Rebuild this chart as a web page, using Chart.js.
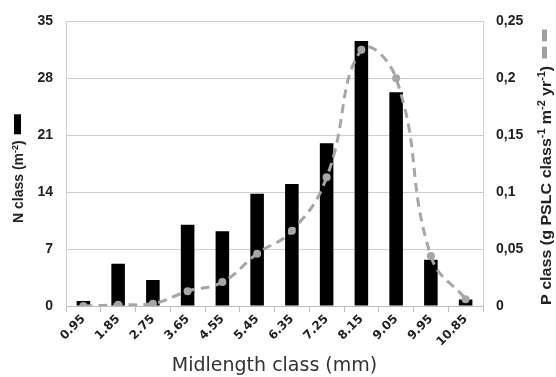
<!DOCTYPE html>
<html>
<head>
<meta charset="utf-8">
<script src="https://cdn.jsdelivr.net/npm/chart.js@4/dist/chart.umd.min.js"></script>
<style>
html,body{margin:0;padding:0;background:#fff;}
#wrap{width:556px;height:377px;position:relative;}
</style>
</head>
<body>
<div id="wrap"><canvas id="c" width="556" height="377"></canvas></div>
<script>
const categories = ["0.95","1.85","2.75","3.65","4.55","5.45","6.35","7.25","8.15","9.05","9.95","10.85"];
const nClass = [0.6, 5.2, 3.2, 10.0, 9.2, 13.8, 15.0, 20.0, 32.6, 26.3, 5.7, 0.8];
const pClass = [0.0, 0.001, 0.002, 0.013, 0.021, 0.046, 0.066, 0.113, 0.225, 0.200, 0.044, 0.006];
const leftTicks = [0, 7, 14, 21, 28, 35];
const rightTicks = [0, 0.05, 0.1, 0.15, 0.2, 0.25];
const rightTickLabels = ["0", "0,05", "0,1", "0,15", "0,2", "0,25"];
const xTitle = "Midlength class (mm)";
const leftTitle = [["N class (m", false], ["-2", true], [")", false]];
const rightTitle = [["P class (g PSLC class", false], ["-1", true], [" m", false], ["-2", true], [" yr", false], ["-1", true], [")", false]];

function drawRich(ctx, parts, size) {
  let x = 0;
  for (const [t, sup] of parts) {
    ctx.font = "bold " + (sup ? Math.round(size * 0.65) : size) + "px 'Liberation Sans', Arial, sans-serif";
    ctx.fillText(t, x, sup ? -size * 0.38 : 0);
    x += ctx.measureText(t).width;
  }
  return x;
}

const titlesPlugin = {
  id: 'titles',
  afterDraw(chart) {
    const ctx = chart.ctx;
    // left title
    ctx.save();
    ctx.translate(23, 223);
    ctx.rotate(-Math.PI / 2);
    ctx.fillStyle = '#222';
    ctx.textBaseline = 'alphabetic';
    ctx.textAlign = 'left';
    const wl = drawRich(ctx, leftTitle, 14);
    ctx.fillStyle = '#000';
    ctx.fillRect(wl + 6, -9, 20, 7);
    ctx.restore();
    // right title
    ctx.save();
    ctx.translate(551, 305);
    ctx.rotate(-Math.PI / 2);
    ctx.scale(1.07, 1);
    ctx.fillStyle = '#222';
    ctx.textBaseline = 'alphabetic';
    ctx.textAlign = 'left';
    const wr = drawRich(ctx, rightTitle, 15);
    ctx.fillStyle = '#a0a0a0';
    ctx.fillRect(wr + 7, -9, 11, 5);
    ctx.fillRect(wr + 23, -9, 11, 5);
    ctx.restore();
  }
};

new Chart(document.getElementById('c'), {
  type: 'bar',
  data: {
    labels: categories,
    datasets: [
      {
        type: 'line',
        label: 'P class',
        data: pClass,
        yAxisID: 'y1',
        borderColor: '#a6a6a6',
        backgroundColor: '#a6a6a6',
        borderWidth: 3,
        borderDash: [9, 6],
        pointRadius: 4,
        pointBackgroundColor: '#a6a6a6',
        pointBorderWidth: 0,
        tension: 0.45,
        order: 0
      },
      {
        type: 'bar',
        label: 'N class',
        data: nClass,
        yAxisID: 'y',
        backgroundColor: '#000',
        borderColor: '#000',
        categoryPercentage: 1,
        barPercentage: 0.39,
        order: 1
      }
    ]
  },
  options: {
    responsive: false,
    animation: false,
    layout: { padding: { top: 19, left: 0, right: 0, bottom: 0 } },
    plugins: { legend: { display: false }, tooltip: { enabled: false } },
    scales: {
      x: {
        offset: true,
        grid: { display: true, drawOnChartArea: false, drawTicks: true, tickLength: 6, color: '#bdbdbd', offset: true },
        border: { display: true, color: '#bdbdbd' },
        ticks: {
          maxRotation: 45, minRotation: 45, padding: 0, color: '#222',
          font: { family: "'DejaVu Sans', Verdana, sans-serif", size: 12, weight: 'bold' }
        },
        title: {
          display: true, text: xTitle, color: '#333',
          font: { family: "'DejaVu Sans', Verdana, sans-serif", size: 19 },
          padding: { top: 0, bottom: 0 }
        },
        afterFit(s) { s.height = 71; }
      },
      y: {
        position: 'left',
        min: 0, max: 35,
        afterBuildTicks(s) { s.ticks = leftTicks.map(v => ({ value: v })); },
        grid: { color: '#cfcfcf', drawTicks: false },
        border: { display: true, color: '#cfcfcf' },
        ticks: {
          padding: 13, color: '#222',
          font: { family: "'Liberation Sans', Arial, sans-serif", size: 14, weight: 'bold' }
        },
        afterFit(s) { s.width = 66; }
      },
      y1: {
        position: 'right',
        min: 0, max: 0.25,
        afterBuildTicks(s) { s.ticks = rightTicks.map(v => ({ value: v })); },
        grid: { drawOnChartArea: false, drawTicks: false },
        border: { display: true, color: '#cfcfcf' },
        ticks: {
          padding: 13, color: '#222',
          font: { family: "'Liberation Sans', Arial, sans-serif", size: 14, weight: 'bold' },
          callback(v) {
            const i = rightTicks.findIndex(t => Math.abs(t - v) < 1e-9);
            return i >= 0 ? rightTickLabels[i] : '';
          }
        },
        afterFit(s) { s.width = 73; }
      }
    }
  },
  plugins: [titlesPlugin]
});
</script>
</body>
</html>
